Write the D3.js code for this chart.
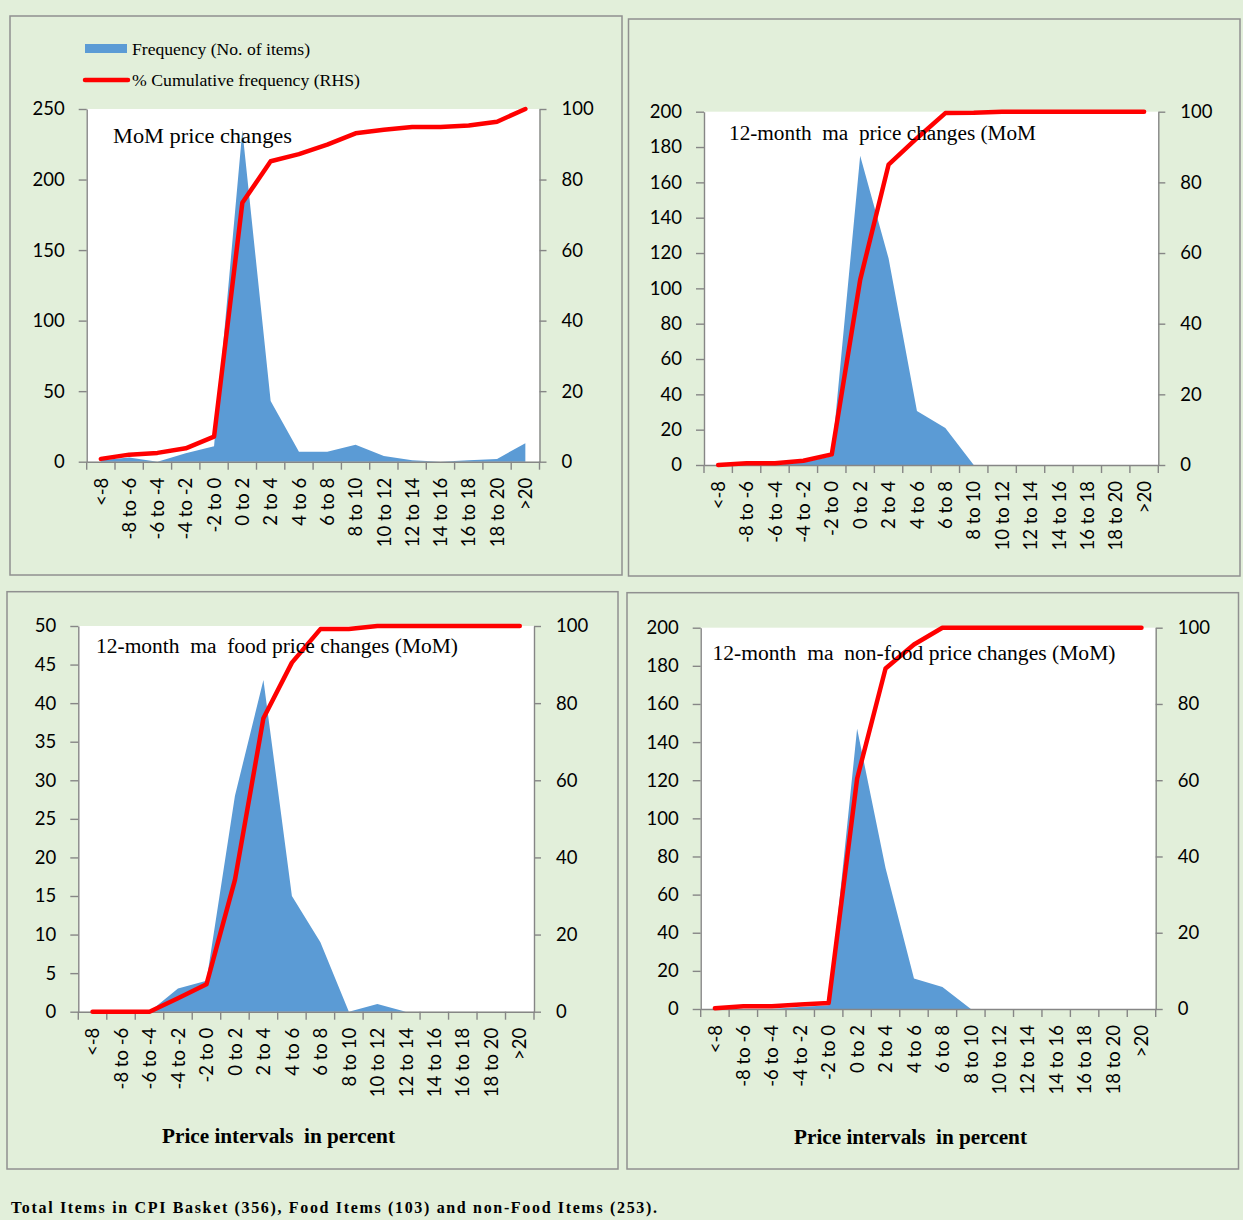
<!DOCTYPE html>
<html>
<head>
<meta charset="utf-8">
<script src="https://cdn.jsdelivr.net/npm/d3@7"></script>
<style>
  html, body { margin: 0; padding: 0; background: #e2efda; }
  svg { display: block; }
</style>
</head>
<body>
<script>
// ---------------- DATA ----------------
const categories = ["<-8", "-8 to -6", "-6 to -4", "-4 to -2", "-2 to 0", "0 to 2", "2 to 4",
  "4 to 6", "6 to 8", "8 to 10", "10 to 12", "12 to 14", "14 to 16", "16 to 18", "18 to 20", ">20"];

// MoM price changes
const momFreq = [1, 3, 0, 6, 11, 235, 43, 7, 7, 12, 4, 1, 0, 1, 2, 13];
const momCum  = [0.8, 2.0, 2.5, 3.8, 7.1, 73.4, 85.2, 87.2, 89.9, 93.1, 94.1, 94.9, 94.9, 95.3, 96.4, 100];

// 12-month ma price changes
const maFreq = [0, 0, 0, 1.5, 5, 175, 117, 30.5, 21, 0, 0, 0, 0, 0, 0, 0];
const maCum  = [0, 0.5, 0.5, 1.2, 3.0, 52.4, 85, 92.5, 99.6, 99.7, 100, 100, 100, 100, 100, 100];

// 12-month ma food price changes
const foodFreq = [0, 0, 0, 3, 4, 28, 43, 15, 9, 0, 1, 0, 0, 0, 0, 0];
const foodCum  = [0, 0, 0, 3.5, 7.1, 34.2, 76.1, 90.5, 99.2, 99.2, 100, 100, 100, 100, 100, 100];

// 12-month ma non-food price changes
const nonFoodFreq = [0, 0, 0, 1, 2, 147, 74, 16, 11.5, 0, 0, 0, 0, 0, 0, 0];
const nonFoodCum  = [0.2, 0.7, 0.7, 1.2, 1.6, 60.4, 89.3, 95.6, 100, 100, 100, 100, 100, 100, 100, 100];

// tick labels
const ticksMom   = [0, 50, 100, 150, 200, 250];
const ticks200   = [0, 20, 40, 60, 80, 100, 120, 140, 160, 180, 200];
const ticksFood  = [0, 5, 10, 15, 20, 25, 30, 35, 40, 45, 50];
const ticksRight = [0, 20, 40, 60, 80, 100];

const titles = ["MoM price changes", "12-month  ma  price changes (MoM",
  "12-month  ma  food price changes (MoM)", "12-month  ma  non-food price changes (MoM)"];
const legendLabels = ["Frequency (No. of items)", "% Cumulative frequency (RHS)"];
const xAxisTitle = "Price intervals  in percent";
const footnote = "Total Items in CPI Basket (356), Food Items (103) and non-Food Items (253).";

// ---------------- LAYOUT ----------------
const W = 1243, H = 1220;
const AREA_COLOR = "#5b9bd5", LINE_COLOR = "#ff0000", AXIS_COLOR = "#868686";
const SANS = "Lato, 'Open Sans', sans-serif";
const SERIF = "'Liberation Serif', 'Times New Roman', serif";

const svg = d3.select("body").append("svg").attr("width", W).attr("height", H);
svg.append("rect").attr("width", W).attr("height", H).attr("fill", "#e2efda");

const panels = [
  { box: [10, 16, 622, 575], l: 86.7, r: 539.5, t: 109, b: 461.7, freq: momFreq, cum: momCum, lmax: 250, lticks: ticksMom,
    title: titles[0], tx: 113, ty: 143, tw: 179, legend: true },
  { box: [628.5, 19, 1240, 576], l: 704, r: 1158.3, t: 111.7, b: 465, freq: maFreq, cum: maCum, lmax: 200, lticks: ticks200,
    title: titles[1], tx: 729, ty: 140, tw: 307 },
  { box: [7, 591.7, 618, 1169], l: 78.3, r: 534, t: 626, b: 1011.7, freq: foodFreq, cum: foodCum, lmax: 50, lticks: ticksFood,
    title: titles[2], tx: 96, ty: 652.5, tw: 362, xTitle: true, xtx: 162, xty: 1143, xtw: 233 },
  { box: [627, 592.7, 1238.5, 1169], l: 700.7, r: 1155.7, t: 627.7, b: 1009, freq: nonFoodFreq, cum: nonFoodCum, lmax: 200, lticks: ticks200,
    title: titles[3], tx: 712.5, ty: 659.5, tw: 403, xTitle: true, xtx: 794, xty: 1143.5, xtw: 233 }
];

function drawPanel(p) {
  const g = svg.append("g");
  g.append("rect")
    .attr("x", p.box[0]).attr("y", p.box[1])
    .attr("width", p.box[2] - p.box[0]).attr("height", p.box[3] - p.box[1])
    .attr("fill", "none").attr("stroke", "#909090").attr("stroke-width", 1.5);

  const x = d3.scaleBand().domain(categories).range([p.l, p.r]);
  const cx = c => x(c) + x.bandwidth() / 2;
  const yL = d3.scaleLinear().domain([0, p.lmax]).range([p.b, p.t]);
  const yR = d3.scaleLinear().domain([0, 100]).range([p.b, p.t]);

  // plot area
  g.append("rect").attr("x", p.l).attr("y", p.t).attr("width", p.r - p.l).attr("height", p.b - p.t).attr("fill", "#ffffff");

  // frequency area
  const area = d3.area().x((d, i) => cx(categories[i])).y0(yL(0)).y1(d => yL(d));
  g.append("path").datum(p.freq).attr("d", area).attr("fill", AREA_COLOR);

  // left axis
  const ax = g.append("g").attr("transform", `translate(${p.l},0)`)
    .call(d3.axisLeft(yL).tickValues(p.lticks).tickSize(8).tickSizeOuter(0).tickPadding(14));
  // right axis
  const ar = g.append("g").attr("transform", `translate(${p.r},0)`)
    .call(d3.axisRight(yR).tickValues(ticksRight).tickSize(7).tickSizeOuter(0).tickPadding(15));
  // bottom axis (labels)
  const ab = g.append("g").attr("transform", `translate(0,${p.b})`)
    .call(d3.axisBottom(x).tickSize(0).tickSizeOuter(0));
  ab.selectAll("text")
    .attr("transform", "rotate(-90)")
    .attr("x", -16).attr("y", 0).attr("dy", "0.36em")
    .style("text-anchor", "end");
  // category boundary ticks
  const bounds = categories.map(c => x(c)).concat([x.range()[1]]);
  ab.selectAll("line.bt").data(bounds).enter().append("line")
    .attr("class", "bt").attr("x1", d => d).attr("x2", d => d).attr("y1", 0).attr("y2", 8);

  [ax, ar, ab].forEach(a => {
    a.selectAll("path.domain").attr("stroke", AXIS_COLOR).attr("stroke-width", 1.4);
    a.selectAll("line").attr("stroke", AXIS_COLOR).attr("stroke-width", 1.4);
    a.selectAll("text").attr("fill", "#000").style("font-family", SANS).style("font-size", "18.5px");
  });

  // cumulative line
  const line = d3.line().x((d, i) => cx(categories[i])).y(d => yR(d));
  g.append("path").datum(p.cum).attr("d", line)
    .attr("fill", "none").attr("stroke", LINE_COLOR).attr("stroke-width", 4.5)
    .attr("stroke-linejoin", "round").attr("stroke-linecap", "round");

  // title
  g.append("text").attr("x", p.tx).attr("y", p.ty).text(p.title)
    .attr("textLength", p.tw).attr("lengthAdjust", "spacingAndGlyphs")
    .style("font-family", SERIF).style("font-size", "20px").attr("fill", "#000")
    .style("white-space", "pre");

  if (p.xTitle) {
    g.append("text").attr("x", p.xtx).attr("y", p.xty).text(xAxisTitle)
      .attr("textLength", p.xtw).attr("lengthAdjust", "spacingAndGlyphs")
      .style("font-family", SERIF).style("font-size", "20px").style("font-weight", "bold")
      .attr("fill", "#000").style("white-space", "pre");
  }

  if (p.legend) {
    const lg = g.append("g");
    lg.append("rect").attr("x", 85).attr("y", 44).attr("width", 42).attr("height", 9).attr("fill", AREA_COLOR);
    lg.append("line").attr("x1", 85).attr("x2", 128).attr("y1", 80).attr("y2", 80)
      .attr("stroke", LINE_COLOR).attr("stroke-width", 4.5).attr("stroke-linecap", "round");
    lg.append("text").attr("x", 132).attr("y", 55).text(legendLabels[0])
      .attr("textLength", 178).attr("lengthAdjust", "spacingAndGlyphs")
      .style("font-family", SERIF).style("font-size", "16px").attr("fill", "#000");
    lg.append("text").attr("x", 132).attr("y", 86).text(legendLabels[1])
      .attr("textLength", 228).attr("lengthAdjust", "spacingAndGlyphs")
      .style("font-family", SERIF).style("font-size", "16px").attr("fill", "#000");
  }
}

panels.forEach(drawPanel);

svg.append("text").attr("x", 11).attr("y", 1212.5).text(footnote)
  .attr("textLength", 646).attr("lengthAdjust", "spacing")
  .style("font-family", SERIF).style("font-size", "16px").style("font-weight", "bold").attr("fill", "#000");
</script>
</body>
</html>
